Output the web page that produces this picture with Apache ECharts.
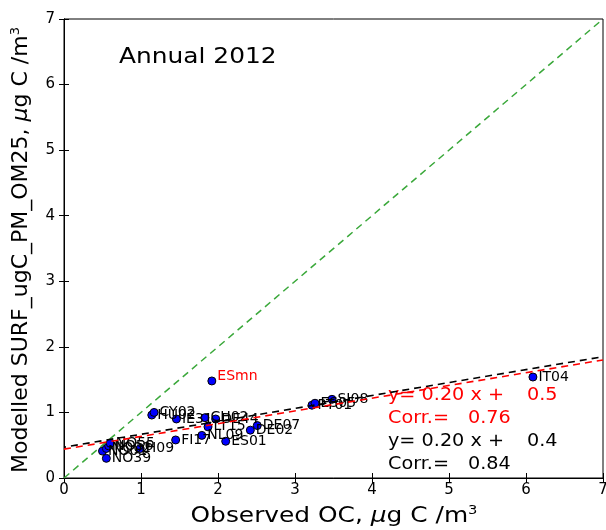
<!DOCTYPE html>
<html>
<head>
<meta charset="utf-8">
<script src="https://cdn.jsdelivr.net/npm/echarts@6/dist/echarts.min.js"></script>
<style>
html, body { margin: 0; padding: 0; background: #fff; }
#chart { width: 606px; height: 530px; }
</style>
</head>
<body>
<div id="chart"></div>
<script>
// station names and observed / modelled OC (ug C/m3)
var stations = ['NO01', 'NO02', 'NO56', 'NO39', 'NO55', 'H09', 'FI17', 'HU02', 'CY02', 'IE31', 'CH02', 'DE44',
                'LT15', 'NL09', 'ES01', 'DE02', 'DE07', 'PT01', 'ES05', 'SI08', 'IT04'];
var observed = [0.50, 0.55, 0.58, 0.55, 0.60, 0.99, 1.45, 1.14, 1.17, 1.46, 1.83, 1.97,
                1.87, 1.79, 2.10, 2.42, 2.51, 3.22, 3.26, 3.48, 6.09];
var modelled = [0.41, 0.45, 0.49, 0.30, 0.53, 0.45, 0.58, 0.96, 1.00, 0.90, 0.92, 0.90,
                0.78, 0.65, 0.56, 0.73, 0.80, 1.11, 1.14, 1.20, 1.54];
// mean of all stations
var meanName = 'ESmn';
var meanPoint = [1.92, 1.48];

// fit lines: [x, y] end points
var oneToOne = [[0, 0], [7, 7]];
var fitRed = [[0, 0.44], [7, 1.80]];
var fitBlack = [[0, 0.47], [7, 1.85]];

// regression text
var redFit = ['y= 0.20 x +', '0.5', 'Corr.=', '0.76'];
var blackFit = ['y= 0.20 x +', '0.4', 'Corr.=', '0.84'];

var xTicks = [0, 1, 2, 3, 4, 5, 6, 7];
var yTicks = [0, 1, 2, 3, 4, 5, 6, 7];

var chart = echarts.init(document.getElementById('chart'));

var pts = [];
for (var i = 0; i < stations.length; i++) {
    pts.push({ name: stations[i], value: [observed[i], modelled[i]] });
}

var font = 'DejaVu Sans';
var dash = [7, 5];
var sx = 1.13; // the reference text is a bit wider than DejaVu

function txt(x, y, s, size, color, align) {
    return {
        type: 'text', x: x, y: y, scaleX: sx,
        style: { text: s, fontFamily: font, fontSize: size, fill: color,
            align: align || 'left', verticalAlign: 'middle' }
    };
}

var unitRich = {
    i: { fontFamily: font, fontStyle: 'italic', fontSize: 22, fill: '#000' },
    s: { fontFamily: font, fontSize: 13, fill: '#000', padding: [0, 0, 11, 0] }
};

var option = {
    animation: false,
    grid: { left: 64, right: 3, top: 19, bottom: 52, outerBoundsMode: 'none',
        show: true, borderColor: '#000', borderWidth: 1 },
    xAxis: [{
        type: 'value', min: 0, max: 7, interval: 1,
        axisLine: { show: true, lineStyle: { color: '#000' } },
        axisTick: { show: true, inside: true, length: 5, lineStyle: { color: '#000' } },
        axisLabel: { fontFamily: font, fontSize: 15, color: '#000', margin: 5, showMaxLabel: true,
            formatter: function (v) { return xTicks.indexOf(v) >= 0 ? String(v) : ''; } },
        splitLine: { show: false }
    }, {
        type: 'value', min: 0, max: 7, interval: 1, position: 'top',
        axisLine: { show: true, lineStyle: { color: '#000' } },
        axisTick: { show: true, inside: true, length: 5, lineStyle: { color: '#000' } },
        axisLabel: { show: false }, splitLine: { show: false }
    }],
    yAxis: [{
        type: 'value', min: 0, max: 7, interval: 1,
        axisLine: { show: true, lineStyle: { color: '#000' } },
        axisTick: { show: true, inside: true, length: 5, lineStyle: { color: '#000' } },
        axisLabel: { fontFamily: font, fontSize: 15, color: '#000', margin: 9,
            formatter: function (v) { return yTicks.indexOf(v) >= 0 ? String(v) : ''; } },
        splitLine: { show: false }
    }, {
        type: 'value', min: 0, max: 7, interval: 1, position: 'right',
        axisLine: { show: true, lineStyle: { color: '#000' } },
        axisTick: { show: true, inside: true, length: 5, lineStyle: { color: '#000' } },
        axisLabel: { show: false }, splitLine: { show: false }
    }],
    series: [
        {
            type: 'line', data: oneToOne, symbol: 'none', silent: true,
            lineStyle: { color: '#3aa83a', width: 1.5, type: dash }
        },
        {
            type: 'line', data: fitRed, symbol: 'none', silent: true,
            lineStyle: { color: '#ff0000', width: 1.6, type: dash }
        },
        {
            type: 'line', data: fitBlack, symbol: 'none', silent: true,
            lineStyle: { color: '#000', width: 1.6, type: dash, dashOffset: 5 }
        },
        {
            type: 'scatter', data: pts, symbolSize: 8,
            itemStyle: { color: '#0000ff', borderColor: '#000', borderWidth: 1, opacity: 1 },
            label: { show: true, position: 'right', distance: 1, offset: [0, -3],
                formatter: '{b}', fontFamily: font, fontSize: 14, color: '#000' },
            labelLayout: { hideOverlap: false }
        },
        {
            type: 'scatter', data: [{ name: meanName, value: meanPoint }], symbolSize: 8,
            itemStyle: { color: '#0000ff', borderColor: '#000', borderWidth: 1, opacity: 1 },
            label: { show: true, position: 'right', distance: 1, offset: [0, -5],
                formatter: '{b}', fontFamily: font, fontSize: 14, color: '#ff0000' }
        }
    ],
    graphic: [
        txt(119, 57, 'Annual 2012', 22, '#000'),
        txt(388, 396, redFit[0], 17, '#ff0000'),
        txt(527, 396, redFit[1], 17, '#ff0000'),
        txt(388, 419, redFit[2], 17, '#ff0000'),
        txt(468, 419, redFit[3], 17, '#ff0000'),
        txt(388, 442, blackFit[0], 17, '#000'),
        txt(527, 442, blackFit[1], 17, '#000'),
        txt(388, 465, blackFit[2], 17, '#000'),
        txt(468, 465, blackFit[3], 17, '#000'),
        {
            type: 'text', x: 334, y: 516, scaleX: sx,
            style: { text: 'Observed OC, {i|μ}g C /m{s|3}', fontFamily: font, fontSize: 22, fill: '#000',
                align: 'center', verticalAlign: 'middle', rich: unitRich }
        },
        {
            type: 'text', x: 21, y: 250, rotation: Math.PI / 2,
            style: { text: 'Modelled SURF_ugC_PM_OM25, {i|μ}g C /m{s|3}', fontFamily: font, fontSize: 22, fill: '#000',
                align: 'center', verticalAlign: 'middle', rich: unitRich }
        }
    ]
};

chart.setOption(option);
</script>
</body>
</html>
